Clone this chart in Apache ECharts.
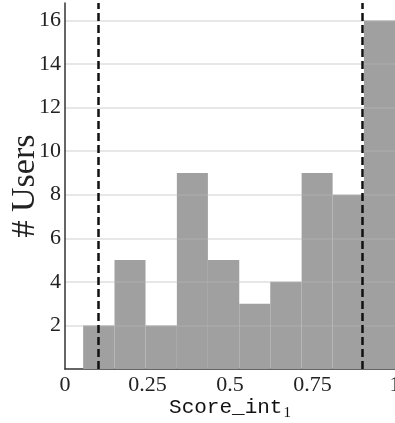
<!DOCTYPE html>
<html>
<head>
<meta charset="utf-8">
<script src="https://cdn.jsdelivr.net/npm/echarts@6/dist/echarts.min.js"></script>
<style>html,body{margin:0;padding:0;background:#fff;}#c{width:395px;height:423px;}</style>
</head>
<body>
<div id="c"></div>
<script>
// Histogram bins (edges) and counts
const binEdges = [0.055, 0.150, 0.244, 0.339, 0.433, 0.528, 0.622, 0.717, 0.811, 0.906, 1.000];
const counts = [2, 5, 2, 9, 5, 3, 4, 9, 8, 16];
const thresholds = [0.1, 0.9];
const xTicks = [0, 0.25, 0.5, 0.75, 1];
const xTickLabels = ['0', '0.25', '0.5', '0.75', '1'];
const yTicks = [2, 4, 6, 8, 10, 12, 14, 16];

const histData = counts.map((c, i) => [binEdges[i], binEdges[i + 1], c]);

const chart = echarts.init(document.getElementById('c'), null, {renderer: 'canvas'});
const serif = '"Liberation Serif", "DejaVu Serif", serif';
const mono = '"Liberation Mono", "DejaVu Sans Mono", monospace';
chart.setOption({
  animation: false,
  backgroundColor: '#fff',
  grid: {left: 65, right: 0, top: 3, bottom: 54, containLabel: false, outerBoundsMode: 'none'},
  xAxis: {
    type: 'value', min: 0, max: 1, interval: 0.25,
    axisLine: {show: true, onZero: false, lineStyle: {color: '#333', width: 1.5}},
    axisTick: {show: false},
    splitLine: {show: false},
    axisLabel: {
      fontFamily: serif, fontSize: 22, color: '#222', margin: 5,
      formatter: v => { const i = xTicks.findIndex(t => Math.abs(t - v) < 1e-9); return i >= 0 ? xTickLabels[i] : ''; }
    },
    name: '{a|Score}{u|_}{a|int}{s|1}',
    nameLocation: 'middle', nameGap: 25, nameMoveOverlap: false,
    nameTextStyle: {
      rich: {
        a: {fontFamily: mono, fontSize: 21, color: '#111'},
        u: {fontFamily: mono, fontSize: 21, color: '#111'},
        s: {fontFamily: serif, fontSize: 15, color: '#111', verticalAlign: 'bottom', padding: [12, 0, 0, 1]}
      }
    }
  },
  yAxis: {
    type: 'value', min: 0, max: 16.8, interval: 2,
    z: 3,
    axisLine: {show: true, lineStyle: {color: '#333', width: 1.5}},
    axisTick: {show: false},
    splitLine: {show: true, showMinLine: false, showMaxLine: false, lineStyle: {color: 'rgba(184,184,184,0.44)', width: 1.5}},
    axisLabel: {
      fontFamily: serif, fontSize: 22, color: '#222', margin: 4,
      formatter: v => yTicks.indexOf(v) >= 0 ? String(v) : ''
    },
    name: '# Users', nameLocation: 'middle', nameGap: 23, nameRotate: 90, nameMoveOverlap: false,
    nameTextStyle: {fontFamily: serif, fontSize: 34, color: '#222'}
  },
  series: [
    {
      type: 'custom', z: 2,
      renderItem: (params, api) => {
        const p0 = api.coord([api.value(0), api.value(2)]);
        const p1 = api.coord([api.value(1), 0]);
        return {type: 'rect', shape: {x: p0[0], y: p0[1], width: p1[0] - p0[0], height: p1[1] - p0[1]},
                style: {fill: '#a0a0a0'}};
      },
      encode: {x: [0, 1], y: 2},
      data: histData
    },
    {
      type: 'line', data: [], z: 5,
      markLine: {
        silent: true, symbol: ['none', 'none'], label: {show: false},
        lineStyle: {color: '#111', width: 2.5, type: [8, 4]},
        data: thresholds.map(t => ({xAxis: t}))
      }
    }
  ]
});
</script>
</body>
</html>
